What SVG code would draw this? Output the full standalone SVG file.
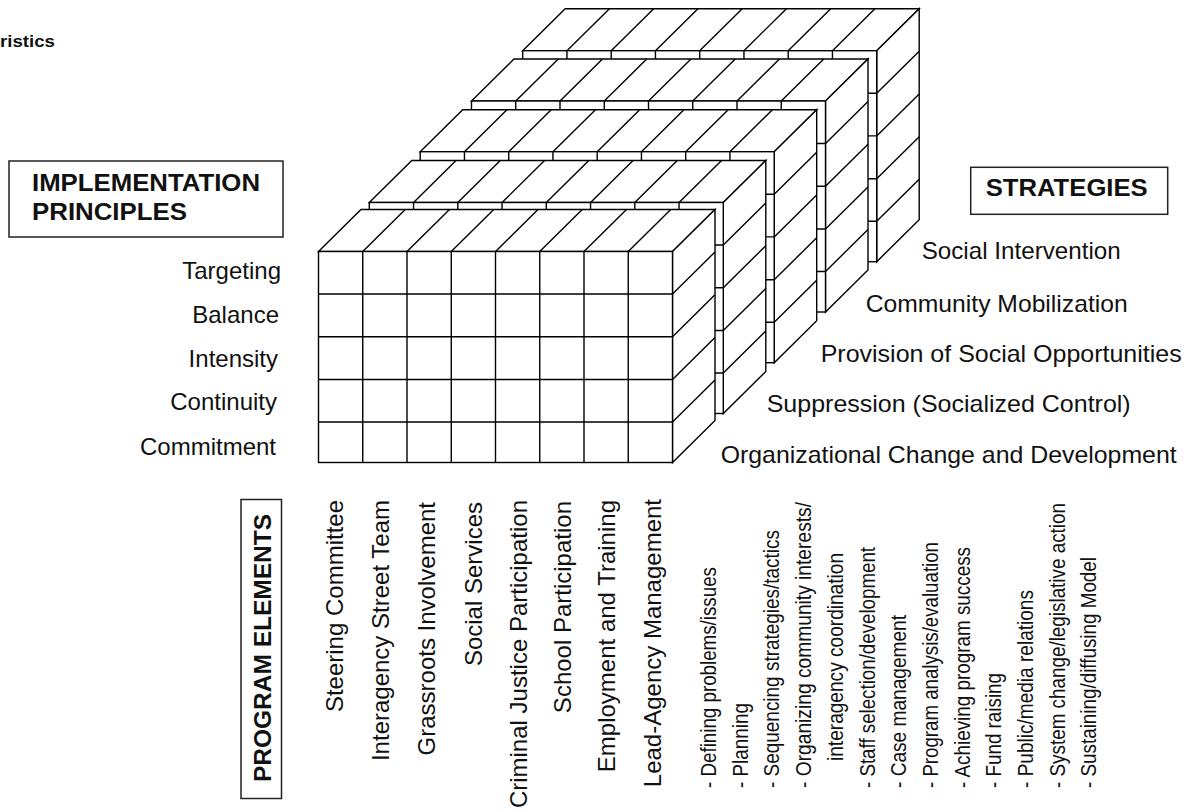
<svg xmlns="http://www.w3.org/2000/svg" width="1188" height="812" viewBox="0 0 1188 812">
<style>
.face{fill:#fff;stroke:#000;stroke-width:1.4;stroke-linejoin:miter}
.ln{fill:none;stroke:#000;stroke-width:1.4}
.box{fill:#fff;stroke:#222;stroke-width:1.5}
text{font-family:"Liberation Sans",Arial,sans-serif;fill:#111}
.hd{font-weight:bold;font-size:23px}
.lb{font-size:24px}
.li{font-size:22px}
</style>
<defs>
<g id="slab">
<path class="face" d="M0,0 L42.5,-42 L396.5,-42 L354,0 Z"/>
<path class="face" d="M354,0 L396.5,-42 L396.5,169 L354,211 Z"/>
<rect class="face" x="0" y="0" width="354" height="211"/>
<path class="ln" d="M44.25,0 l42.5,-42 M88.5,0 l42.5,-42 M132.75,0 l42.5,-42 M177,0 l42.5,-42 M221.25,0 l42.5,-42 M265.5,0 l42.5,-42 M309.75,0 l42.5,-42 M354,42.5 l42.5,-42 M354,85.2 l42.5,-42 M354,128 l42.5,-42 M354,170.5 l42.5,-42 M44.25,0 v211 M88.5,0 v211 M132.75,0 v211 M177,0 v211 M221.25,0 v211 M265.5,0 v211 M309.75,0 v211 M0,42.5 h354 M0,85.2 h354 M0,128 h354 M0,170.5 h354"/>
</g>
</defs>
<rect width="1188" height="812" fill="#fff"/>

<g id="title"><text x="0" y="47" style="font-weight:bold;font-size:17px" textLength="55" lengthAdjust="spacingAndGlyphs">ristics</text></g>

<g id="cube">
<g id="slab-social-intervention"><use href="#slab" transform="translate(522.7,50.7)"/></g>
<g id="slab-community-mobilization"><use href="#slab" transform="translate(471.5,101)"/></g>
<g id="slab-social-opportunities"><use href="#slab" transform="translate(420.2,151.7)"/></g>
<g id="slab-suppression"><use href="#slab" transform="translate(369.3,202.5)"/></g>
<g id="slab-organizational-change"><use href="#slab" transform="translate(318.5,251.5)"/></g>
</g>

<g id="implementation-principles">
<rect class="box" x="9" y="161" width="274" height="76"/>
<text class="hd" x="32" y="191" textLength="228" lengthAdjust="spacingAndGlyphs">IMPLEMENTATION</text>
<text class="hd" x="32" y="220" textLength="155" lengthAdjust="spacingAndGlyphs">PRINCIPLES</text>
</g>
<g id="principle-labels" text-anchor="end">
<text class="lb" x="281" y="279">Targeting</text>
<text class="lb" x="279" y="323">Balance</text>
<text class="lb" x="278" y="366.5">Intensity</text>
<text class="lb" x="277" y="410">Continuity</text>
<text class="lb" x="276" y="455">Commitment</text>
</g>

<g id="strategies">
<rect class="box" x="970.7" y="167.3" width="197" height="47"/>
<text class="hd" x="985.7" y="196" textLength="162" lengthAdjust="spacingAndGlyphs">STRATEGIES</text>
</g>
<g id="strategy-labels">
<text class="lb" x="921.7" y="259.3" textLength="199" lengthAdjust="spacingAndGlyphs">Social Intervention</text>
<text class="lb" x="865.7" y="311.7" textLength="262" lengthAdjust="spacingAndGlyphs">Community Mobilization</text>
<text class="lb" x="820.7" y="361.7" textLength="361" lengthAdjust="spacingAndGlyphs">Provision of Social Opportunities</text>
<text class="lb" x="766.7" y="411.5" textLength="364" lengthAdjust="spacingAndGlyphs">Suppression (Socialized Control)</text>
<text class="lb" x="720.7" y="462.7" textLength="456" lengthAdjust="spacingAndGlyphs">Organizational Change and Development</text>
</g>

<g id="program-elements">
<rect class="box" x="241" y="499.5" width="40.5" height="299"/>
<text class="hd" transform="translate(271,782) rotate(-90)" style="font-size:24px" textLength="268" lengthAdjust="spacingAndGlyphs">PROGRAM ELEMENTS</text>
</g>
<g id="element-labels" text-anchor="end">
<text class="lb" transform="translate(343,500) rotate(-90)">Steering Committee</text>
<text class="lb" transform="translate(389,500) rotate(-90)">Interagency Street Team</text>
<text class="lb" transform="translate(435,502) rotate(-90)">Grassroots Involvement</text>
<text class="lb" transform="translate(482,502) rotate(-90)">Social Services</text>
<text class="lb" transform="translate(527,500) rotate(-90)">Criminal Justice Participation</text>
<text class="lb" transform="translate(571,501) rotate(-90)">School Participation</text>
<text class="lb" transform="translate(615,500) rotate(-90)">Employment and Training</text>
<text class="lb" transform="translate(661,499) rotate(-90)">Lead-Agency Management</text>
</g>

<g id="activity-list">
<text class="li" transform="translate(716,788) rotate(-90)" textLength="221" lengthAdjust="spacingAndGlyphs">- Defining problems/issues</text>
<text class="li" transform="translate(747.7,788) rotate(-90)" textLength="85" lengthAdjust="spacingAndGlyphs">- Planning</text>
<text class="li" transform="translate(779.4,788) rotate(-90)" textLength="258" lengthAdjust="spacingAndGlyphs">- Sequencing strategies/tactics</text>
<text class="li" transform="translate(811.1,788) rotate(-90)" textLength="286" lengthAdjust="spacingAndGlyphs">- Organizing community interests/</text>
<text class="li" transform="translate(842.8,761) rotate(-90)" textLength="208" lengthAdjust="spacingAndGlyphs">interagency coordination</text>
<text class="li" transform="translate(874.5,788) rotate(-90)" textLength="241" lengthAdjust="spacingAndGlyphs">- Staff selection/development</text>
<text class="li" transform="translate(906.2,788) rotate(-90)" textLength="173" lengthAdjust="spacingAndGlyphs">- Case management</text>
<text class="li" transform="translate(937.9,788) rotate(-90)" textLength="246" lengthAdjust="spacingAndGlyphs">- Program analysis/evaluation</text>
<text class="li" transform="translate(969.6,788) rotate(-90)" textLength="241" lengthAdjust="spacingAndGlyphs">- Achieving program success</text>
<text class="li" transform="translate(1001.3,788) rotate(-90)" textLength="115" lengthAdjust="spacingAndGlyphs">- Fund raising</text>
<text class="li" transform="translate(1033,788) rotate(-90)" textLength="198" lengthAdjust="spacingAndGlyphs">- Public/media relations</text>
<text class="li" transform="translate(1064.7,788) rotate(-90)" textLength="285" lengthAdjust="spacingAndGlyphs">- System change/legislative action</text>
<text class="li" transform="translate(1096.4,788) rotate(-90)" textLength="231" lengthAdjust="spacingAndGlyphs">- Sustaining/diffusing Model</text>
</g>
</svg>
